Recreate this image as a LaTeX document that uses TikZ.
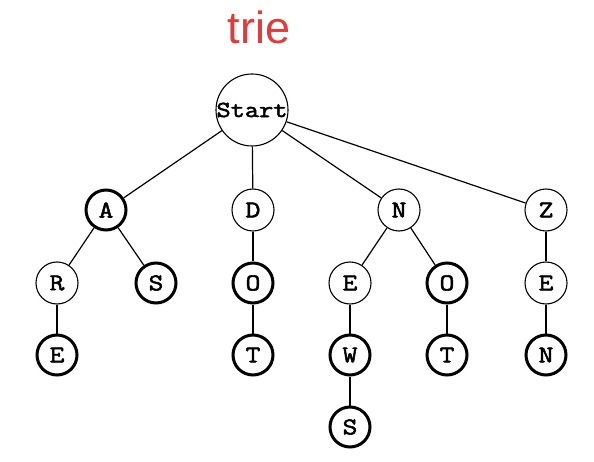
\documentclass[tikz,border=0pt]{standalone}
\usepackage{fontspec}
\setmainfont{Liberation Sans}
\newfontfamily\cour[FakeBold=2.2,FakeStretch=1.2]{Latin Modern Mono}
\definecolor{titlered}{HTML}{E23B3B}
\begin{document}
\begin{tikzpicture}[x=1pt,y=-1pt,
  nd/.style={circle,draw,line width=1.1pt,minimum size=42pt,inner sep=0pt,font=\cour\fontsize{24}{24}\selectfont},
  fin/.style={nd,line width=3pt,minimum size=40pt},
  edge/.style={line width=1.2pt}]
\useasboundingbox (0,0) rectangle (594,462);
\node[text=titlered,font=\fontsize{45}{45}\selectfont] (title) at (259,27) {trie};
\node[circle,draw,line width=1.1pt,minimum size=72pt,inner sep=0pt] (start) at (252,110) {};
\node[inner sep=0pt,font=\cour\fontsize{23}{23}\selectfont] (startlbl) at (start.center) {Start};
\node[fin] (a) at (106,210) {A};
\node[nd] (d) at (253,210) {D};
\node[nd] (n) at (399,210) {N};
\node[nd] (z) at (546,210) {Z};
\node[nd] (r) at (57,283) {R};
\node[fin] (s1) at (156,283) {S};
\node[fin] (o1) at (253,283) {O};
\node[nd] (e2) at (350,283) {E};
\node[fin] (o2) at (447,283) {O};
\node[nd] (e3) at (546,283) {E};
\node[fin] (e1) at (57,355) {E};
\node[fin] (t1) at (253,355) {T};
\node[fin] (w) at (350,355) {W};
\node[fin] (t2) at (447,355) {T};
\node[fin] (n2) at (546,355) {N};
\node[fin] (s2) at (350,427) {S};
\draw[edge] (start) -- (a);
\draw[edge] (start) -- (d);
\draw[edge] (start) -- (n);
\draw[edge] (start) -- (z);
\draw[edge] (a) -- (r);
\draw[edge] (a) -- (s1);
\draw[edge] (r) -- (e1);
\draw[edge] (d) -- (o1);
\draw[edge] (o1) -- (t1);
\draw[edge] (n) -- (e2);
\draw[edge] (n) -- (o2);
\draw[edge] (e2) -- (w);
\draw[edge] (w) -- (s2);
\draw[edge] (o2) -- (t2);
\draw[edge] (z) -- (e3);
\draw[edge] (e3) -- (n2);
\end{tikzpicture}
\end{document}
